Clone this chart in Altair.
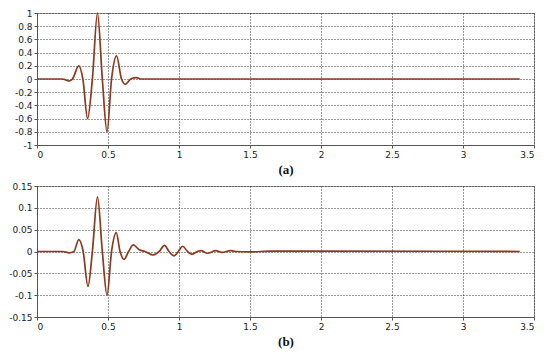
import altair as alt
import pandas as pd

# Panel (a) waveform: time (s) and amplitude
A_T = [0.0, 0.18, 0.205, 0.225, 0.25, 0.294, 0.323, 0.356, 0.39, 0.426, 0.46, 0.493,
       0.525, 0.56, 0.595, 0.623, 0.66, 0.70, 0.73, 3.4]
A_V = [0.0, 0.0, -0.015, -0.03, 0.0, 0.2, 0.0, -0.6, 0.0, 1.0, 0.0, -0.8,
       0.0, 0.35, 0.0, -0.08, 0.0, 0.02, 0.0, 0.0]

# Panel (b) waveform
B_T = [0.0, 0.18, 0.227, 0.26, 0.294, 0.325, 0.359, 0.39, 0.426, 0.46, 0.493, 0.525,
       0.558, 0.585, 0.613, 0.645, 0.678, 0.72, 0.76, 0.817, 0.86, 0.898, 0.93,
       0.965, 0.995, 1.026, 1.06, 1.09, 1.13, 1.155, 1.2, 1.26, 1.30, 1.365, 1.40,
       1.5, 1.65, 1.95, 3.4]
B_V = [0.0, 0.0, -0.003, 0.0, 0.027, 0.0, -0.08, 0.0, 0.125, 0.0, -0.1, 0.0,
       0.043, 0.0, -0.018, 0.0, 0.015, 0.004, 0.0, -0.008, 0.0, 0.014, 0.0,
       -0.01, 0.0, 0.012, 0.0, -0.006, 0.0, 0.002, -0.004, 0.002, -0.002, 0.002, 0.0,
       -0.001, 0.001, 0.001, 0.0]

X_TICKS = [0, 0.5, 1, 1.5, 2, 2.5, 3, 3.5]
YA_TICKS = [-1, -0.8, -0.6, -0.4, -0.2, 0, 0.2, 0.4, 0.6, 0.8, 1]
YB_TICKS = [-0.15, -0.1, -0.05, 0, 0.05, 0.1, 0.15]
LABELS = ["(a)", "(b)"]

LINE_COLOR = "#8b3a1e"
PLOT_W = 497


def panel(t, v, yticks, ydom, title, h):
    df = pd.DataFrame({"t": t, "v": v})
    return alt.Chart(df).mark_line(
        interpolate="monotone", color=LINE_COLOR, strokeWidth=1.7
    ).encode(
        x=alt.X(
            "t:Q",
            scale=alt.Scale(domain=[0, 3.5], nice=False, zero=False),
            axis=alt.Axis(values=X_TICKS, title=title, labelExpr="'' + datum.value"),
        ),
        y=alt.Y(
            "v:Q",
            scale=alt.Scale(domain=ydom, nice=False, zero=False),
            axis=alt.Axis(values=yticks, title=None, labelExpr="'' + datum.value"),
        ),
    ).properties(width=PLOT_W, height=h)


top = panel(A_T, A_V, YA_TICKS, [-1, 1], LABELS[0], 132)
bottom = panel(B_T, B_V, YB_TICKS, [-0.15, 0.15], LABELS[1], 131)

chart = alt.vconcat(top, bottom, spacing=4).properties(
    padding={"left": 0, "top": 0, "right": 4, "bottom": 0},
    background="white",
).configure_view(
    stroke="#999999", strokeWidth=1
).configure_axis(
    labelFont="DejaVu Sans",
    labelFontSize=9,
    labelColor="#222222",
    labelPadding=2,
    tickSize=3,
    tickColor="#555555",
    domainColor="#555555",
    grid=True,
    gridColor="#333333",
    gridDash=[1, 2],
    gridWidth=1,
    gridOpacity=1,
    titleFont="Liberation Serif",
    titleFontSize=13,
    titleFontWeight="bold",
    titleColor="#111111",
    titlePadding=4,
)

chart.save("out.html", embed_options={"renderer": "svg", "actions": False})
